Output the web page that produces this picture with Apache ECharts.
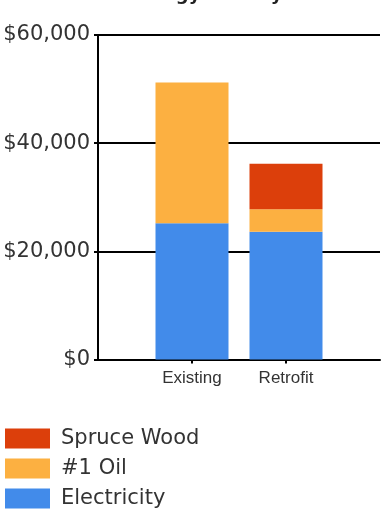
<!DOCTYPE html>
<html>
<head>
<meta charset="utf-8">
<script src="https://cdn.jsdelivr.net/npm/echarts@6/dist/echarts.min.js"></script>
<style>html,body{margin:0;padding:0;background:#fff}#c{width:384px;height:515px}</style>
</head>
<body>
<div id="c"></div>
<script>
const titleText = 'Annual Energy Cost by Fuel';
const categories = ['Existing', 'Retrofit'];
const electricity = [25200, 23600];
const oil = [26000, 4200];
const wood = [null, 8400];
const yTicks = [0, 20000, 40000, 60000];
const legendOrder = ['Spruce Wood', '#1 Oil', 'Electricity'];

const pad = a => [null].concat(a, [null]);
const axisCats = [''].concat(categories, ['']);
const chart = echarts.init(document.getElementById('c'), null, {renderer: 'canvas'});
const fmt = v => '$' + String(v).replace(/\B(?=(\d{3})+(?!\d))/g, ',');
const showMid = i => i > 0 && i <= categories.length;
chart.setOption({
  animation: false,
  title: {text: titleText, left: 'center', top: -19,
    textStyle: {fontFamily: 'DejaVu Sans', fontSize: 18, fontWeight: 'bold', color: '#222'}},
  grid: {left: 98, right: 4, top: 35, bottom: 155.5, containLabel: false},
  legend: {data: legendOrder, orient: 'vertical', left: 5, top: 428, height: 100, itemWidth: 45, itemHeight: 20,
    itemGap: 9, icon: 'rect', padding: 0,
    textStyle: {fontFamily: 'DejaVu Sans', fontSize: 21, color: '#333', padding: [0, 0, 0, 6]}},
  xAxis: {type: 'category', data: axisCats, boundaryGap: false,
    axisLine: {lineStyle: {color: '#000', width: 2}},
    axisTick: {interval: (i) => showMid(i), length: 4, lineStyle: {color: '#000', width: 2}},
    axisLabel: {interval: (i) => showMid(i), fontFamily: 'Liberation Sans', fontSize: 17, color: '#333', margin: 10},
    splitLine: {show: false}},
  yAxis: {type: 'value', min: yTicks[0], max: yTicks[yTicks.length - 1], interval: yTicks[1] - yTicks[0],
    axisLine: {show: true, lineStyle: {color: '#000', width: 2}},
    axisTick: {show: true, length: 4, lineStyle: {color: '#000', width: 2}},
    axisLabel: {formatter: fmt, fontFamily: 'DejaVu Sans', fontSize: 21, color: '#333', margin: 8},
    splitLine: {lineStyle: {color: '#000', width: 2}}},
  series: [
    {name: 'Electricity', type: 'bar', stack: 't', barWidth: 73, data: pad(electricity), itemStyle: {color: '#428BEA'}},
    {name: '#1 Oil', type: 'bar', stack: 't', barWidth: 73, data: pad(oil), itemStyle: {color: '#FCB041'}},
    {name: 'Spruce Wood', type: 'bar', stack: 't', barWidth: 73, data: pad(wood), itemStyle: {color: '#DC3F0B'}}
  ]
});
</script>
</body>
</html>
